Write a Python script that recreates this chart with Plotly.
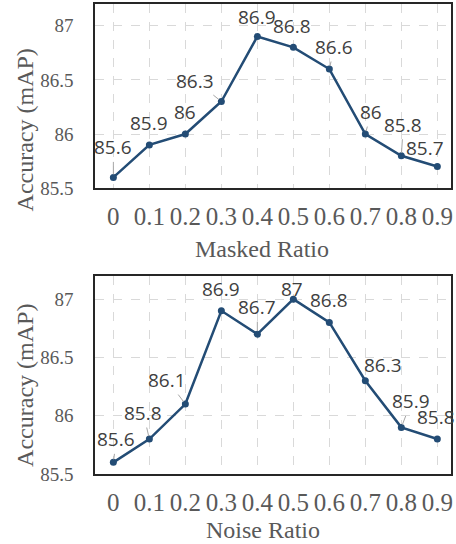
import plotly.graph_objects as go

ratios = [0, 0.1, 0.2, 0.3, 0.4, 0.5, 0.6, 0.7, 0.8, 0.9]
tick_text = ["0", "0.1", "0.2", "0.3", "0.4", "0.5", "0.6", "0.7", "0.8", "0.9"]
masked_acc = [85.6, 85.9, 86.0, 86.3, 86.9, 86.8, 86.6, 86.0, 85.8, 85.7]
noise_acc = [85.6, 85.8, 86.1, 86.9, 86.7, 87.0, 86.8, 86.3, 85.9, 85.8]
masked_text = ["85.6", "85.9", "86", "86.3", "86.9", "86.8", "86.6", "86", "85.8", "85.7"]
noise_text = ["85.6", "85.8", "86.1", "86.9", "86.7", "87", "86.8", "86.3", "85.9", "85.8"]
y_ticks = [85.5, 86, 86.5, 87]
y_tick_text = ["85.5", "86", "86.5", "87"]

# label offsets (pixels) and leader-line flags
masked_off = [(0, -30), (0, -22), (0, -22), (-26, -21), (0, -20), (-1, -21), (5, -22), (6, -22), (2, -31), (-12, -19)]
masked_lead = [1, 0, 0, 1, 0, 0, 1, 1, 1, 0]
noise_off = [(3, -23), (-6, -26), (-18, -24), (0, -22), (0, -27), (-1, -10), (0, -22), (18, -16), (10, -26), (-1, -22)]
noise_lead = [1, 1, 1, 0, 1, 0, 0, 0, 1, 0]

LINE = "#234c75"
GRID = "#d9d9d9"
TICKC = "#595959"
LABC = "#404040"
SERIF = "Liberation Serif"

fig = go.Figure()
fig.add_trace(go.Scatter(x=ratios, y=masked_acc, mode="lines+markers", xaxis="x", yaxis="y",
                         line=dict(color=LINE, width=2.5), marker=dict(color=LINE, size=7),
                         showlegend=False, hoverinfo="skip"))
fig.add_trace(go.Scatter(x=ratios, y=noise_acc, mode="lines+markers", xaxis="x2", yaxis="y2",
                         line=dict(color=LINE, width=2.5), marker=dict(color=LINE, size=7),
                         showlegend=False, hoverinfo="skip"))

annotations = []
for xs, ys, txt, offs, lead, xr, yr in [
    (ratios, masked_acc, masked_text, masked_off, masked_lead, "x", "y"),
    (ratios, noise_acc, noise_text, noise_off, noise_lead, "x2", "y2"),
]:
    for xv, yv, t, (ax, ay), ld in zip(xs, ys, txt, offs, lead):
        annotations.append(dict(
            x=xv, y=yv, xref=xr, yref=yr, text=t, showarrow=True, ax=ax, ay=ay,
            arrowhead=0, arrowwidth=1, standoff=3,
            arrowcolor="#a6a6a6" if ld else "rgba(0,0,0,0)",
            font=dict(family="Open Sans", size=19, color=LABC),
        ))

title_font = dict(family=SERIF, size=24, color=TICKC)
annotations += [
    dict(text="Accuracy (mAP)", xref="paper", yref="paper", x=-0.1966, y=0.731, textangle=-90,
         showarrow=False, xanchor="center", yanchor="middle", font=title_font),
    dict(text="Accuracy (mAP)", xref="paper", yref="paper", x=-0.1966, y=0.1875, textangle=-90,
         showarrow=False, xanchor="center", yanchor="middle", font=title_font),
    dict(text="Masked Ratio", xref="paper", yref="paper", x=0.4705, y=0.478,
         showarrow=False, xanchor="center", yanchor="middle", font=title_font),
    dict(text="Noise Ratio", xref="paper", yref="paper", x=0.472, y=-0.1193,
         showarrow=False, xanchor="center", yanchor="middle", font=title_font),
]

xaxis_common = dict(range=[-0.051, 0.938], tickvals=ratios, ticktext=tick_text,
                    showgrid=True, gridcolor=GRID, griddash="dash", gridwidth=1,
                    showline=True, linecolor="#262626", linewidth=1.5, mirror=True,
                    ticks="", ticklabelstandoff=5, zeroline=False,
                    tickfont=dict(family=SERIF, size=25, color=TICKC))
yaxis_common = dict(range=[85.5, 87.2], tickvals=y_ticks, ticktext=y_tick_text,
                    showgrid=True, gridcolor=GRID, griddash="dash", gridwidth=1,
                    showline=True, linecolor="#262626", linewidth=1.5, mirror=True,
                    ticks="", ticklabelstandoff=16, zeroline=False,
                    tickfont=dict(family=SERIF, size=19, color=TICKC))

fig.update_layout(
    width=456, height=544,
    margin=dict(l=95, r=5, t=2, b=70),
    paper_bgcolor="white", plot_bgcolor="white",
    xaxis=dict(domain=[0, 1], anchor="y", **xaxis_common),
    yaxis=dict(domain=[0.608, 1], anchor="x", **yaxis_common),
    xaxis2=dict(domain=[0, 1], anchor="y2", **xaxis_common),
    yaxis2=dict(domain=[0, 0.4216], anchor="x2", **yaxis_common),
    annotations=annotations,
)

fig.write_html("out.html", config={"displayModeBar": False},
               post_script="document.body.style.margin='0';document.body.style.overflow='hidden';")
